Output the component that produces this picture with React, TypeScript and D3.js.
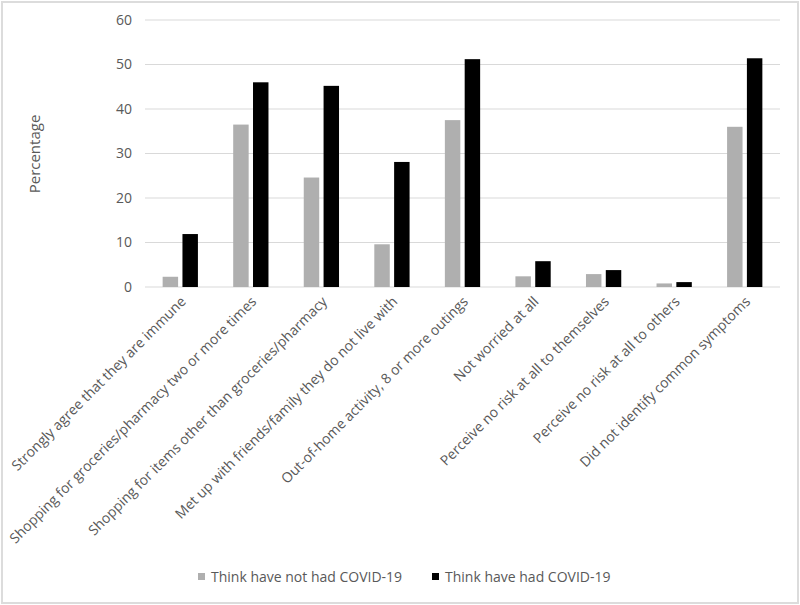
import React from "react";
import * as d3 from "d3";

const categories = [
  "Strongly agree that they are immune",
  "Shopping for groceries/pharmacy two or more times",
  "Shopping for items other than groceries/pharmacy",
  "Met up with friends/family they do not live with",
  "Out-of-home activity, 8 or more outings",
  "Not worried at all",
  "Perceive no risk at all to themselves",
  "Perceive no risk at all to others",
  "Did not identify common symptoms",
];
const seriesNames = ["Think have not had COVID-19", "Think have had COVID-19"];
const notHad = [2.3, 36.5, 24.6, 9.6, 37.5, 2.4, 2.9, 0.8, 36.0];
const had = [11.9, 46.0, 45.2, 28.1, 51.2, 5.8, 3.8, 1.1, 51.4];
const yTicks = [0, 10, 20, 30, 40, 50, 60];
const colors = ["#afafaf", "#000000"];

const W = 800;
const H = 605;
const FONT = "'Open Sans', sans-serif";
const TXT = "#595959";

export default function App() {
  const x = d3
    .scaleBand<string>()
    .domain(categories)
    .range([145, 780])
    .paddingInner(0.5)
    .paddingOuter(0.25);
  const xs = d3
    .scaleBand<string>()
    .domain(seriesNames)
    .range([0, x.bandwidth()])
    .paddingInner(0.22)
    .paddingOuter(0);
  const y = d3.scaleLinear().domain([0, 60]).range([287, 20]);
  const series = [notHad, had];

  return (
    <div style={{ position: "absolute", left: 0, top: 0 }}>
      <svg width={W} height={H} style={{ display: "block", background: "#fff" }}>
        <rect x={2} y={2} width={W - 4} height={H - 4} fill="#fff" stroke="#dcdcdc" strokeWidth={2} />
        {yTicks.map((t) => (
          <g key={t}>
            <line x1={145} x2={780} y1={y(t)} y2={y(t)} stroke="#d9d9d9" strokeWidth={1} />
            <text
              x={132}
              y={y(t)}
              dy="0.35em"
              textAnchor="end"
              fontFamily={FONT}
              fontSize={14}
              fill={TXT}
            >
              {t}
            </text>
          </g>
        ))}
        {series.map((vals, si) =>
          vals.map((v, ci) => (
            <rect
              key={`${si}-${ci}`}
              x={(x(categories[ci]) as number) + (xs(seriesNames[si]) as number)}
              y={y(v)}
              width={xs.bandwidth()}
              height={y(0) - y(v)}
              fill={colors[si]}
            />
          ))
        )}
        {categories.map((c) => {
          const cx = (x(c) as number) + x.bandwidth() / 2;
          return (
            <text
              key={c}
              transform={`translate(${cx + 3},${299}) rotate(-45)`}
              textAnchor="end"
              dy="0.35em"
              fontFamily={FONT}
              fontSize={14}
              fill={TXT}
            >
              {c}
            </text>
          );
        })}
        <text
          transform={`translate(35,154) rotate(-90)`}
          textAnchor="middle"
          dy="0.35em"
          fontFamily={FONT}
          fontSize={15}
          fill={TXT}
        >
          Percentage
        </text>
        {[
          { sx: 198, tx: 211 },
          { sx: 432, tx: 445 },
        ].map((p, i) => (
          <g key={i}>
            <rect x={p.sx} y={573} width={7} height={7} fill={colors[i]} />
            <text x={p.tx} y={577} dy="0.35em" fontFamily={FONT} fontSize={14} fill={TXT}>
              {seriesNames[i]}
            </text>
          </g>
        ))}
      </svg>
    </div>
  );
}
